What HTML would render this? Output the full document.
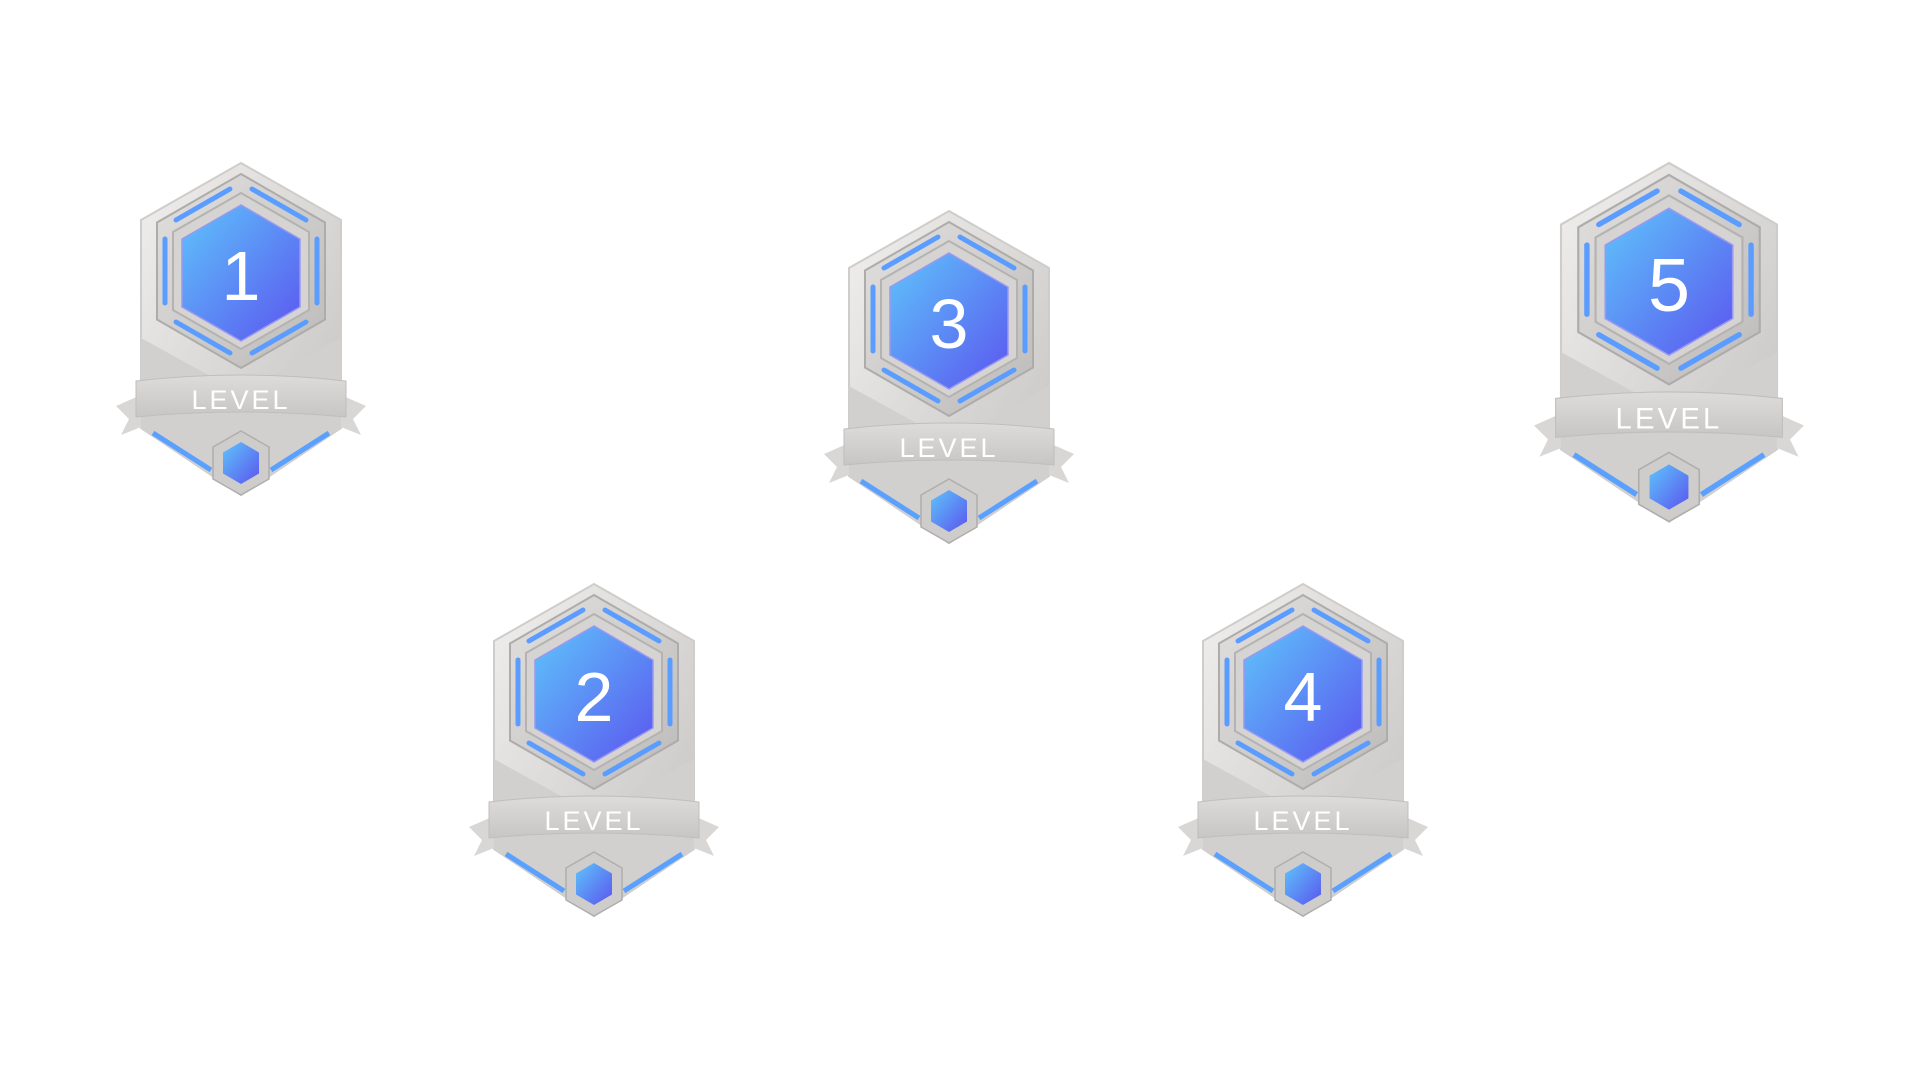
<!DOCTYPE html>
<html><head><meta charset="utf-8"><style>html,body{margin:0;padding:0;background:#fff;width:1920px;height:1080px;overflow:hidden}</style></head>
<body>
<svg width="1920" height="1080" viewBox="0 0 1920 1080" xmlns="http://www.w3.org/2000/svg">
<defs>
<linearGradient id="body" x1="0" y1="0" x2="1" y2="1"><stop offset="0" stop-color="#f0efee"/><stop offset="1" stop-color="#c4c2c0"/></linearGradient>
<linearGradient id="frame" x1="0" y1="0" x2="1" y2="1"><stop offset="0" stop-color="#e2e0de"/><stop offset="1" stop-color="#bdbbb9"/></linearGradient>
<linearGradient id="blue" x1="0" y1="0" x2="1" y2="1"><stop offset="0" stop-color="#5ec4fb"/><stop offset="1" stop-color="#5b55ef"/></linearGradient>
<linearGradient id="rib" x1="0" y1="0" x2="0" y2="1"><stop offset="0" stop-color="#dedcda"/><stop offset="1" stop-color="#c8c6c4"/></linearGradient>
<g id="badge">
<polygon points="0,0 100,57 100,265 0,332 -100,265 -100,57" fill="url(#body)" stroke="#cfcdcb" stroke-width="2"/>
<polygon points="-100,175 0,230 100,175 100,265 0,332 -100,265" fill="#d2d0ce"/>
<polyline points="-88,270 -30,307" stroke="#5aa0ff" stroke-width="5" fill="none"/>
<polyline points="88,270 30,307" stroke="#5aa0ff" stroke-width="5" fill="none"/>
<polygon points="0,11 84,59.5 84,156.5 0,205 -84,156.5 -84,59.5" fill="url(#frame)" stroke="#aeacaa" stroke-width="2"/>
<g stroke="#5a9cff" stroke-width="5" stroke-linecap="round">
<line x1="11" y1="26" x2="65" y2="57"/><line x1="-11" y1="26" x2="-65" y2="57"/>
<line x1="76" y1="76" x2="76" y2="140"/><line x1="-76" y1="76" x2="-76" y2="140"/>
<line x1="11" y1="190" x2="65" y2="159"/><line x1="-11" y1="190" x2="-65" y2="159"/>
</g>
<polygon points="0,30 68,69 68,147 0,186 -68,147 -68,69" fill="#d6d4d2" stroke="#b5b3b1" stroke-width="2"/>
<polygon points="0,42 59,76 59,144 0,178 -59,144 -59,76" fill="url(#blue)" stroke="#9a98f0" stroke-width="1.5"/>
<path d="M-125,243 L-100,232 L-100,264 L-120,272 L-112,256 Z" fill="#d9d7d5"/>
<path d="M125,243 L100,232 L100,264 L120,272 L112,256 Z" fill="#d9d7d5"/>
<path d="M-105,218 Q0,206 105,218 L105,254 Q0,244 -105,254 Z" fill="url(#rib)" stroke="#c0bebc" stroke-width="1"/>
<polygon points="0,268 28,284 28,316 0,332 -28,316 -28,284" fill="#cfcdcb" stroke="#b0aeac" stroke-width="1.5"/>
<polygon points="0,279 18,289.5 18,310.5 0,321 -18,310.5 -18,289.5" fill="url(#blue)"/>
</g>
</defs>
<g font-family="Liberation Sans, sans-serif" fill="#fff" text-anchor="middle">
<g transform="translate(241,163)"><use href="#badge"/><text x="0" y="137" font-size="70">1</text><text x="0" y="246" font-size="27" letter-spacing="3">LEVEL</text></g>
<g transform="translate(949,211)"><use href="#badge"/><text x="0" y="137" font-size="70">3</text><text x="0" y="246" font-size="27" letter-spacing="3">LEVEL</text></g>
<g transform="translate(1669,163) scale(1.08)"><use href="#badge"/><text x="0" y="137" font-size="70">5</text><text x="0" y="246" font-size="27" letter-spacing="3">LEVEL</text></g>
<g transform="translate(594,584)"><use href="#badge"/><text x="0" y="137" font-size="70">2</text><text x="0" y="246" font-size="27" letter-spacing="3">LEVEL</text></g>
<g transform="translate(1303,584)"><use href="#badge"/><text x="0" y="137" font-size="70">4</text><text x="0" y="246" font-size="27" letter-spacing="3">LEVEL</text></g>
</g>
</svg>
</body></html>
